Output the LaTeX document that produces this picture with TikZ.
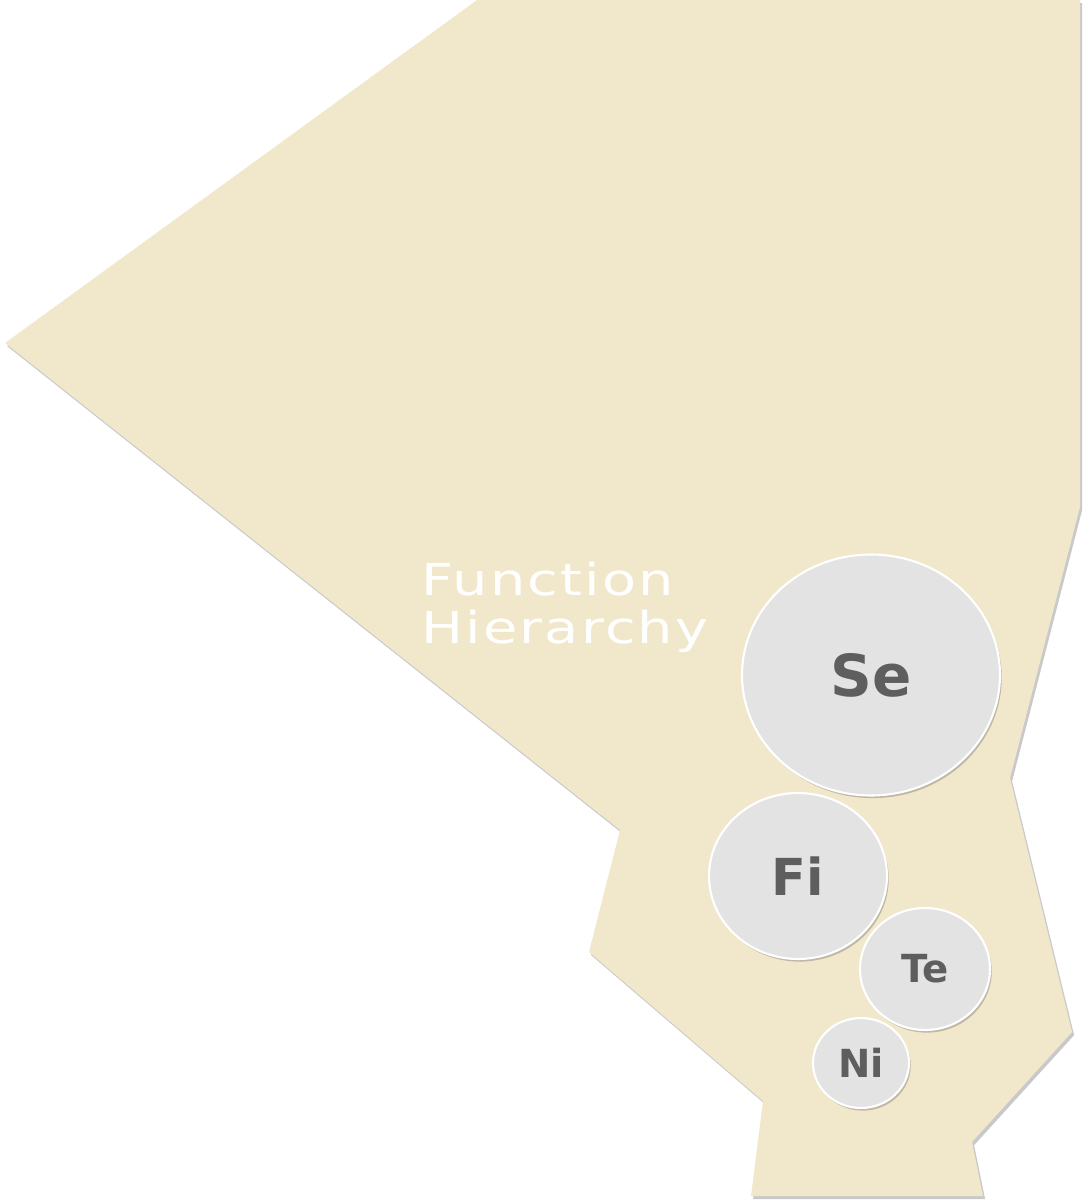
\documentclass[tikz,border=0pt]{standalone}
\usepackage{fontspec}
\setmainfont{DejaVu Sans}
\newfontfamily\titlefont[FakeStretch=1.27,LetterSpace=5]{DejaVu Sans}
\usetikzlibrary{shapes.geometric,shadows}
\definecolor{sand}{HTML}{F1E8CC}
\definecolor{bubblegray}{HTML}{E3E3E3}
\definecolor{labelgray}{HTML}{5E5E5E}
\tikzset{
  bubble/.style={ellipse,inner sep=0pt,fill=bubblegray,draw=white,line width=1.2pt,
    text=labelgray,font=\bfseries,
    drop shadow={shadow xshift=1pt,shadow yshift=-1.5pt,opacity=0.3,fill=black!70}},
}
\begin{document}
\begin{tikzpicture}[x=0.02cm,y=-0.02cm,line join=round]
\useasboundingbox (0,0) rectangle (1084,1204);
% backdrop
\fill[sand,drop shadow={shadow xshift=1.2pt,shadow yshift=-1.8pt,opacity=0.3,fill=black!70}]
  (477,0) -- (1080,0) -- (1080,507) -- (1010,778) -- (1072,1032) -- (972,1142)
  -- (983,1196) -- (751,1196) -- (763,1101) -- (589,952) -- (620,830) -- (5,343) -- cycle;
% title
\node[anchor=north west,inner sep=0pt,text=white,align=left,
  font=\titlefont\fontsize{25}{27}\selectfont] (title) at (421,562) {Function\\Hierarchy};
% bubbles
\node[bubble,minimum width=5.16cm,minimum height=4.82cm,font=\bfseries\fontsize{33}{33}\selectfont] (se) at (871,675) {Se};
\node[bubble,minimum width=3.56cm,minimum height=3.32cm,font=\bfseries\fontsize{29}{29}\selectfont] (fi) at (798,876) {Fi};
\node[bubble,minimum width=2.60cm,minimum height=2.44cm,font=\bfseries\fontsize{22}{22}\selectfont] (te) at (925,969) {Te};
\node[bubble,minimum width=1.92cm,minimum height=1.80cm,font=\bfseries\fontsize{22}{22}\selectfont] (ni) at (861,1063) {Ni};
\end{tikzpicture}
\end{document}
